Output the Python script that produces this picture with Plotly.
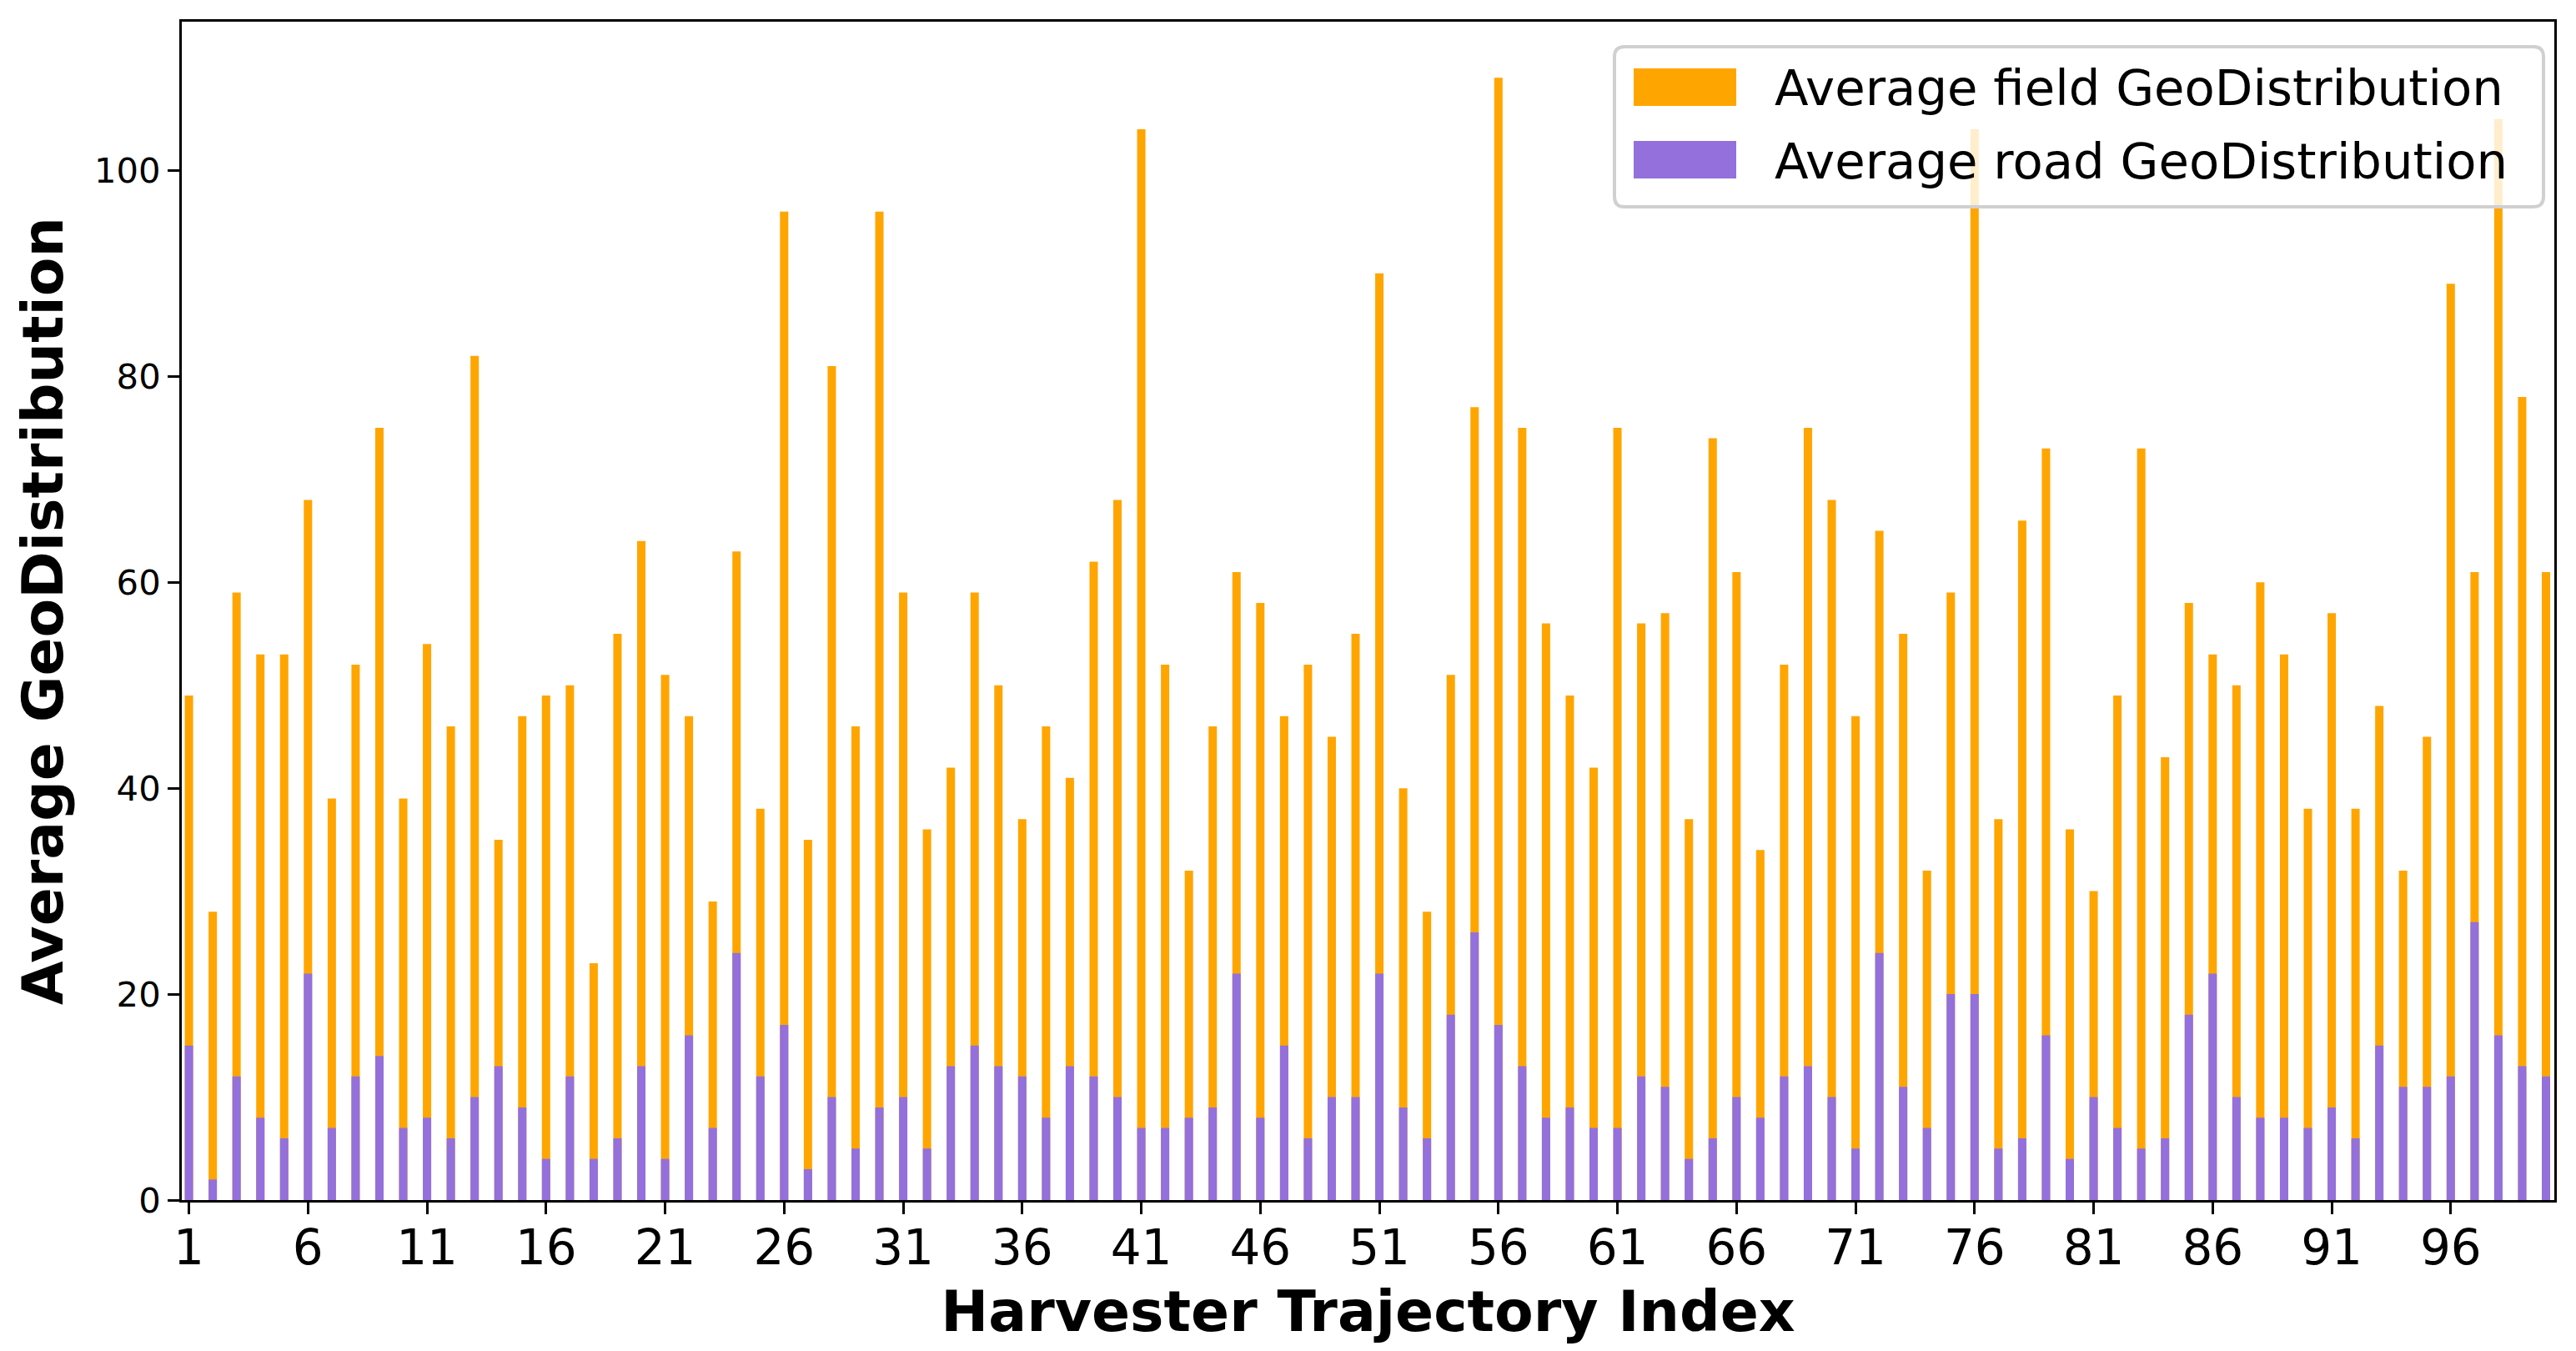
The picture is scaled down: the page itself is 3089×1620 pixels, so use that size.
import plotly.graph_objects as go

# ---------------- data ----------------
trajectory_index = list(range(1, 101))

field_geodistribution = [
    49, 28, 59, 53, 53, 68, 39, 52, 75, 39,
    54, 46, 82, 35, 47, 49, 50, 23, 55, 64,
    51, 47, 29, 63, 38, 96, 35, 81, 46, 96,
    59, 36, 42, 59, 50, 37, 46, 41, 62, 68,
    104, 52, 32, 46, 61, 58, 47, 52, 45, 55,
    90, 40, 28, 51, 77, 109, 75, 56, 49, 42,
    75, 56, 57, 37, 74, 61, 34, 52, 75, 68,
    47, 65, 55, 32, 59, 104, 37, 66, 73, 36,
    30, 49, 73, 43, 58, 53, 50, 60, 53, 38,
    57, 38, 48, 32, 45, 89, 61, 105, 78, 61,
]

road_geodistribution = [
    15, 2, 12, 8, 6, 22, 7, 12, 14, 7,
    8, 6, 10, 13, 9, 4, 12, 4, 6, 13,
    4, 16, 7, 24, 12, 17, 3, 10, 5, 9,
    10, 5, 13, 15, 13, 12, 8, 13, 12, 10,
    7, 7, 8, 9, 22, 8, 15, 6, 10, 10,
    22, 9, 6, 18, 26, 17, 13, 8, 9, 7,
    7, 12, 11, 4, 6, 10, 8, 12, 13, 10,
    5, 24, 11, 7, 20, 20, 5, 6, 16, 4,
    10, 7, 5, 6, 18, 22, 10, 8, 8, 7,
    9, 6, 15, 11, 11, 12, 27, 16, 13, 12,
]

x_tick_values = list(range(1, 100, 5))
x_tick_labels = [str(v) for v in x_tick_values]
y_tick_values = [0, 20, 40, 60, 80, 100]

series_names = ["Average field GeoDistribution", "Average road GeoDistribution"]
series_colors = ["#FFA500", "#9370DB"]

# ---------------- layout constants ----------------
W, H = 3089, 1620
ML, MR, MT, MB = 218, 26, 26, 181
PW, PH = W - ML - MR, H - MT - MB
FONT = "DejaVu Sans"


def px_x(p):
    return (p - ML) / PW


def px_y(p):
    return (H - MB - p) / PH


fig = go.Figure()
for vals, name, col, grp in [
    (field_geodistribution, series_names[0], series_colors[0], "g1"),
    (road_geodistribution, series_names[1], series_colors[1], "g2"),
]:
    fig.add_trace(go.Bar(
        x=trajectory_index, y=vals, name=name, width=0.35,
        marker=dict(color=col, line=dict(width=0)),
        legendgroup=grp,
    ))

# legend frame and large swatches (decoration behind the real legend text)
lx0, lx1, ly0, ly1, r = 1936, 3050, 56, 248, 12
rx, ry = r / PW, r / PH
X0, X1, Y0, Y1 = px_x(lx0), px_x(lx1), px_y(ly0), px_y(ly1)
path = (
    f"M{X0 + rx},{Y0} L{X1 - rx},{Y0} Q{X1},{Y0} {X1},{Y0 - ry} "
    f"L{X1},{Y1 + ry} Q{X1},{Y1} {X1 - rx},{Y1} "
    f"L{X0 + rx},{Y1} Q{X0},{Y1} {X0},{Y1 + ry} "
    f"L{X0},{Y0 - ry} Q{X0},{Y0} {X0 + rx},{Y0} Z"
)
shapes = [dict(type="path", path=path, xref="paper", yref="paper",
               fillcolor="rgba(255,255,255,0.8)",
               line=dict(color="#d0d0d0", width=4), layer="above")]
for (sy0, sy1), col in zip([(82, 127), (169, 214)], series_colors):
    shapes.append(dict(type="rect", xref="paper", yref="paper",
                       x0=px_x(1959), x1=px_x(2082), y0=px_y(sy1), y1=px_y(sy0),
                       fillcolor=col, line=dict(width=0), layer="above"))

ITEMW = 140
fig.update_layout(
    width=W, height=H,
    margin=dict(l=ML, r=MR, t=MT, b=MB, pad=0),
    template="none",
    paper_bgcolor="white", plot_bgcolor="white",
    barmode="overlay",
    shapes=shapes,
    showlegend=True,
    legend=dict(
        x=px_x(2128 - ITEMW - 10), xanchor="left",
        y=px_y(58), yanchor="top",
        bgcolor="rgba(0,0,0,0)", borderwidth=0,
        font=dict(family=FONT, size=59.3, color="black"),
        itemwidth=ITEMW, tracegroupgap=8, traceorder="grouped",
    ),
    xaxis=dict(
        range=[0.70, 100.35],
        tickmode="array", tickvals=x_tick_values, ticktext=x_tick_labels,
        tickfont=dict(family=FONT, size=58, color="black"),
        ticks="outside", ticklen=14, tickwidth=3, tickcolor="black",
        ticklabelstandoff=-10,
        showline=True, linecolor="black", linewidth=3, mirror=True,
        showgrid=False, zeroline=False,
        title=dict(text="Harvester Trajectory Index",
                   font=dict(family=FONT, size=68, color="black", weight="bold"),
                   standoff=20),
    ),
    yaxis=dict(
        range=[0, 114.45],
        tickmode="array", tickvals=y_tick_values,
        tickfont=dict(family=FONT, size=41.7, color="black"),
        ticks="outside", ticklen=14, tickwidth=3, tickcolor="black",
        showline=True, linecolor="black", linewidth=3, mirror=True,
        showgrid=False, zeroline=False,
        title=dict(text="Average GeoDistribution",
                   font=dict(family=FONT, size=68, color="black", weight="bold"),
                   standoff=16),
    ),
)

fig.write_html("out.html", config={"displayModeBar": False},
               post_script="document.body.style.margin='0';")
